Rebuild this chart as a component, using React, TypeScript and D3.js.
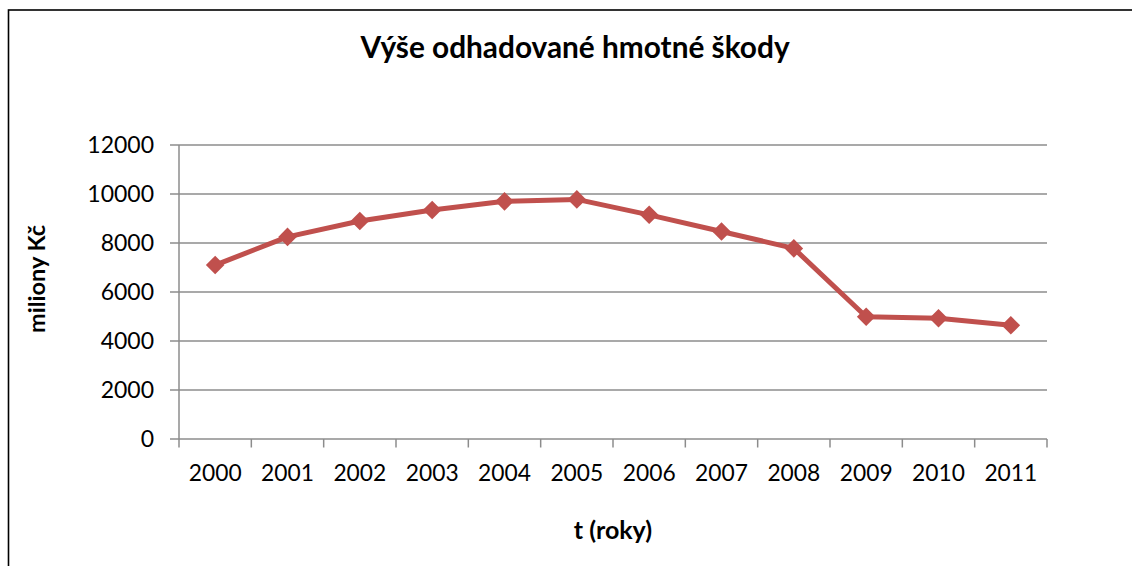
import React from "react";
import * as d3 from "d3";

const years = ["2000","2001","2002","2003","2004","2005","2006","2007","2008","2009","2010","2011"];
const values = [7100, 8250, 8900, 9350, 9700, 9780, 9150, 8470, 7780, 4990, 4930, 4640];
const yTicks = [0, 2000, 4000, 6000, 8000, 10000, 12000];
const title = "Výše odhadované hmotné škody";
const yTitle = "miliony Kč";
const xTitle = "t (roky)";

const W = 1132, H = 566;
const left = 179, right = 1047, top = 145, bottom = 439;
const font = "Lato, 'Open Sans', sans-serif";
const gridColor = "#8c8c8c";
const lineColor = "#C0504D";

export default function App() {
  const x = d3.scaleBand<string>().domain(years).range([left, right]).paddingInner(0).paddingOuter(0);
  const y = d3.scaleLinear().domain([0, 12000]).range([bottom, top]);
  const cx = (d: string) => (x(d) as number) + x.bandwidth() / 2;
  const line = d3.line<number>().x((_, i) => cx(years[i])).y((v) => y(v));
  const diamond = d3.symbol().type(d3.symbolDiamond2).size(220)();
  const bounds = years.map((d) => x(d) as number).concat([right]);

  return (
    <div style={{ position: "fixed", left: 0, top: 0 }}>
      <svg width={W} height={H} style={{ display: "block", background: "#fff" }}>
        <rect x={8.5} y={10} width={W + 20} height={H + 20} fill="#fff" stroke="#000" strokeWidth={1.6} />
        <text x={575} y={58} textAnchor="middle" fontFamily={font} fontWeight={700} fontSize={29.8} fill="#000">{title}</text>
        {yTicks.map((t) => (
          <g key={t}>
            <line x1={170} x2={right} y1={y(t)} y2={y(t)} stroke={gridColor} strokeWidth={1.5} />
            <text x={154} y={y(t)} dy="0.36em" textAnchor="end" fontFamily={font} fontSize={23} fill="#000">{t}</text>
          </g>
        ))}
        <line x1={left} x2={left} y1={top} y2={bottom} stroke={gridColor} strokeWidth={1.5} />
        {bounds.map((b, i) => (
          <line key={i} x1={b} x2={b} y1={bottom} y2={bottom + 8.5} stroke={gridColor} strokeWidth={1.5} />
        ))}
        {years.map((d) => (
          <text key={d} x={cx(d)} y={473} dy="0.36em" textAnchor="middle" fontFamily={font} fontSize={22.8} fill="#000">{d}</text>
        ))}
        <text transform={`translate(45,${279}) rotate(-90)`} textAnchor="middle" fontFamily={font} fontWeight={700} fontSize={23.5} fill="#000">{yTitle}</text>
        <text x={613} y={539} textAnchor="middle" fontFamily={font} fontWeight={700} fontSize={25} fill="#000">{xTitle}</text>
        <path d={line(values) || ""} fill="none" stroke={lineColor} strokeWidth={5} strokeLinejoin="round" />
        {values.map((v, i) => (
          <path key={i} d={diamond || ""} transform={`translate(${cx(years[i])},${y(v)})`} fill={lineColor} />
        ))}
      </svg>
    </div>
  );
}
